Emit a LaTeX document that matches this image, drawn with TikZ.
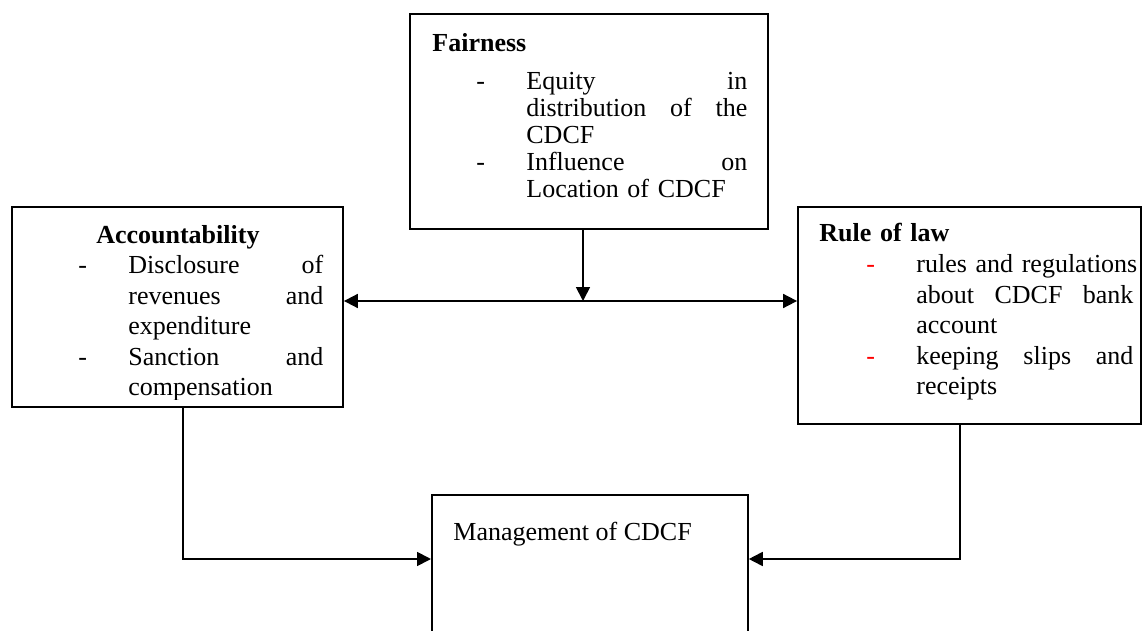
\documentclass[tikz,border=0pt]{standalone}
\usepackage{fontspec}
\setmainfont{Liberation Serif}
\usepackage{xcolor}
\usepackage{tikz}
\usetikzlibrary{arrows.meta}
\usetikzlibrary{positioning}
\usetikzlibrary{calc}

% first line of a dashed item, and the lines that follow it
\newcommand{\dashln}[2][black]{\hspace*{#2}\makebox[25pt][l]{\textcolor{#1}{-}}}
\newcommand{\contln}[1]{\hspace*{\dimexpr#1+25pt\relax}}

\begin{document}
\begin{tikzpicture}[x=0.5pt,y=-0.5pt,>={Triangle[length=7pt,width=7pt]},
	blk/.style={draw,rectangle,line width=0.9pt,inner sep=0pt},
	txt/.style={inner sep=0pt,font=\fontsize{13}{15.3}\selectfont},
	conn/.style={line width=0.9pt}]

	\useasboundingbox (0,0) rectangle (1142,631);

	% Fairness
	% --------
	\node[blk, minimum width=179pt, minimum height=107.5pt] (fair) at (589,121.5) {};
	\node[txt, text width=157.5pt, align=left, anchor=base west,
		  font=\fontsize{13}{13.5}\selectfont] (fairtxt) at (432,52)
		{\textbf{Fairness}\\[5.5pt]
		 \dashln{22pt}Equity\hfill in\\
		 \contln{22pt}distribution\hfill of\hfill the\\
		 \contln{22pt}CDCF\\
		 \dashln{22pt}Influence\hfill on\\
		 \contln{22pt}Location of CDCF};

	% Accountability
	% --------------
	\node[blk, minimum width=165.5pt, minimum height=100pt] (acc) at (177.5,307) {};
	\begin{scope}
		\clip (acc.north west) rectangle ([yshift=4pt]acc.south east);
		\node[txt, text width=145.5pt, align=left, anchor=base west] (acctxt) at (32,243)
			{\hbox to\hsize{\hfil\textbf{Accountability}\hfil}\\
			 \dashln{23pt}Disclosure\hfill of\\
			 \contln{23pt}revenues\hfill and\\
			 \contln{23pt}expenditure\\
			 \dashln{23pt}Sanction\hfill and\\
			 \contln{23pt}compensation};
	\end{scope}

	% Rule of law
	% -----------
	\node[blk, minimum width=171.5pt, minimum height=108.5pt] (law) at (969.5,315.5) {};
	\node[txt, text width=157pt, align=left, anchor=base west] (lawtxt) at (819,242)
		{\textbf{Rule of law}\\
		 \dashln[red]{23.5pt}\mbox{rules and regulations}\\
		 \contln{23.5pt}about\hfill CDCF\hfill bank\\
		 \contln{23.5pt}account\\
		 \dashln[red]{23.5pt}keeping\hfill slips\hfill and\\
		 \contln{23.5pt}receipts};

	% Management
	% ----------
	\node[blk, minimum width=158pt, minimum height=83pt, anchor=north west] (mgmt) at (431,494) {};
	\node[txt, anchor=base west] (mgmttxt) at (453,540) {Management of CDCF};

	% connectors
	\coordinate (hub) at (583,301);
	\coordinate (lc) at (183,559);
	\coordinate (rc) at (960,559);
	\draw [->,conn] (fair.south -| hub) -- (hub);
	\draw [<->,conn] (acc.east |- hub) -- (law.west |- hub);
	\draw [->,conn] (acc.south -| lc) |- (mgmt.west |- lc);
	\draw [->,conn] (law.south -| rc) |- (mgmt.east |- rc);

\end{tikzpicture}
\end{document}
